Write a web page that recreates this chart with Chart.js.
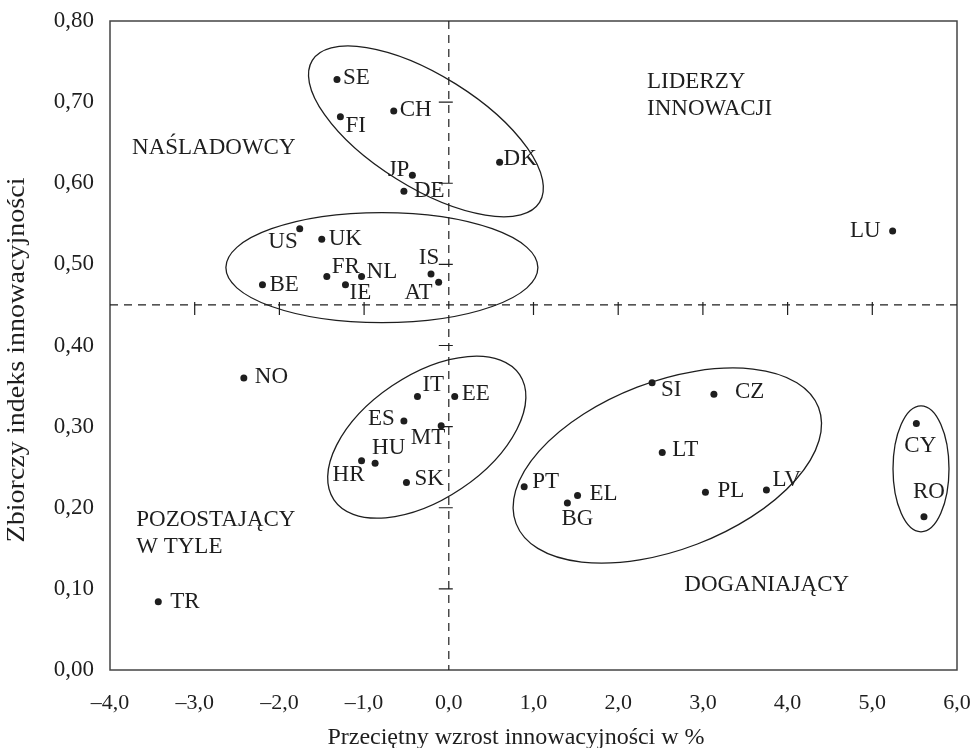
<!DOCTYPE html>
<html>
<head>
<meta charset="utf-8">
<script src="https://cdn.jsdelivr.net/npm/chart.js@4.4.1/dist/chart.umd.min.js"></script>
<style>
  html, body { margin: 0; padding: 0; background: #fff; }
  #wrap { width: 976px; height: 748px; }
</style>
</head>
<body>
<div id="wrap"><canvas id="chart" width="976" height="748"></canvas></div>
<script>
// country codes and values
const countries = ["SE", "FI", "CH", "DK", "JP", "DE", "US", "UK", "FR", "NL", "BE", "IE", "IS", "AT", "LU",
  "NO", "IT", "EE", "ES", "MT", "HR", "HU", "SK", "PT", "TR", "SI", "CZ", "LT", "EL", "BG", "PL", "LV", "CY", "RO"];
const growth = [-1.32, -1.28, -0.65, 0.60, -0.43, -0.53, -1.76, -1.50, -1.44, -1.03, -2.20, -1.22, -0.21, -0.12, 5.24,
  -2.42, -0.37, 0.07, -0.53, -0.09, -1.03, -0.87, -0.50, 0.89, -3.43, 2.40, 3.13, 2.52, 1.52, 1.40, 3.03, 3.75, 5.52, 5.61];
const index = [0.728, 0.682, 0.689, 0.626, 0.610, 0.590, 0.544, 0.531, 0.485, 0.485, 0.475, 0.475, 0.488, 0.478, 0.541,
  0.360, 0.337, 0.337, 0.307, 0.301, 0.258, 0.255, 0.231, 0.226, 0.084, 0.354, 0.340, 0.268, 0.215, 0.206, 0.219, 0.222, 0.304, 0.189];

// axis ticks
const xTicks = [-4, -3, -2, -1, 0, 1, 2, 3, 4, 5, 6];
const yTicks = [0, 0.1, 0.2, 0.3, 0.4, 0.5, 0.6, 0.7, 0.8];
const xTitle = "Przeciętny wzrost innowacyjności w %";
const yTitle = "Zbiorczy indeks innowacyjności";

// dividing lines (mean values)
const xSplit = 0;
const ySplit = 0.45;

// group texts
const groupLines = [["NAŚLADOWCY"], ["LIDERZY", "INNOWACJI"], ["POZOSTAJĄCY", "W TYLE"], ["DOGANIAJĄCY"]];
const groupX = [-3.74, 2.34, -3.69, 2.78];
const groupY = [0.644, 0.725, 0.185, 0.105];

// where each country label sits next to its dot: [dx, dy, align]
const labelPos = [
  [6, -1, "left"], [5, 9, "left"], [6, -1, "left"], [4, -3, "left"], [-3, -5, "right"], [10, 0, "left"],
  [-2, 13, "right"], [7, 0, "left"], [5, -10, "left"], [5, -5, "left"], [7, 0, "left"], [4, 8, "left"],
  [-2, -16, "center"], [-6, 11, "right"], [-12, 0, "right"], [11, -1, "left"], [5, -12, "left"], [7, -3, "left"],
  [-9, -2, "right"], [4, 12, "right"], [3, 14, "right"], [-3, -15, "left"], [8, -4, "left"], [8, -5, "left"],
  [12, 0, "left"], [9, 7, "left"], [21, -2, "left"], [10, -3, "left"], [12, -2, "left"], [-6, 16, "left"],
  [12, -1, "left"], [6, -10, "left"], [4, 23, "center"], [5, -25, "center"]
];

// cluster ellipses: centre in data units, radii in px, rotation in degrees
const ellipses = [
  { cx: -0.27, cy: 0.664, rx: 134, ry: 56, rot: 32 },
  { cx: -0.79, cy: 0.496, rx: 156, ry: 55, rot: 0 },
  { cx: -0.26, cy: 0.287, rx: 112, ry: 62, rot: -34 },
  { cx: 2.58, cy: 0.252, rx: 162, ry: 84, rot: -21 },
  { cx: 5.575, cy: 0.248, rx: 28, ry: 63, rot: 0 }
];

const ink = "#1e1e1e";
const serif = "'Liberation Serif', 'Times New Roman', serif";
Chart.defaults.font.family = serif;
Chart.defaults.color = ink;

const fmt = (v, d) => v.toFixed(d).replace(".", ",").replace("-", "\u2013");

const points = countries.map((c, i) => ({ x: growth[i], y: index[i] }));

// no automatic padding for overhanging tick labels
const noPad = s => { s.paddingLeft = 0; s.paddingRight = 0; s.paddingTop = 0; s.paddingBottom = 0; };

// extra drawing: frame, dashed split lines, ellipses and text
const overlay = {
  id: "overlay",
  afterDatasetsDraw(chart) {
    const ctx = chart.ctx;
    const xs = chart.scales.x, ys = chart.scales.y;
    const a = chart.chartArea;
    ctx.save();

    // frame
    ctx.strokeStyle = "#444";
    ctx.lineWidth = 1.5;
    ctx.strokeRect(a.left, a.top, a.right - a.left, a.bottom - a.top);

    // dashed split lines
    const x0 = xs.getPixelForValue(xSplit);
    const y0 = ys.getPixelForValue(ySplit);
    ctx.strokeStyle = ink;
    ctx.lineWidth = 1.2;
    ctx.setLineDash([8, 6]);
    ctx.beginPath();
    ctx.moveTo(x0, a.top);
    ctx.lineTo(x0, a.bottom);
    ctx.moveTo(a.left, y0);
    ctx.lineTo(a.right, y0);
    ctx.stroke();
    ctx.setLineDash([]);

    // small tick stubs on the split lines
    ctx.beginPath();
    yTicks.forEach(v => {
      if (v <= 0 || v >= 0.8) return;
      const py = ys.getPixelForValue(v);
      ctx.moveTo(x0 - 10, py);
      ctx.lineTo(x0 + 4, py);
    });
    xTicks.forEach(v => {
      if (v <= -4 || v >= 6 || v === xSplit) return;
      const px = xs.getPixelForValue(v);
      ctx.moveTo(px, y0 - 3);
      ctx.lineTo(px, y0 + 10);
    });
    ctx.stroke();

    // ellipses
    ctx.lineWidth = 1.3;
    ellipses.forEach(e => {
      ctx.beginPath();
      ctx.ellipse(xs.getPixelForValue(e.cx), ys.getPixelForValue(e.cy), e.rx, e.ry,
        e.rot * Math.PI / 180, 0, Math.PI * 2);
      ctx.stroke();
    });

    // country labels
    ctx.fillStyle = ink;
    ctx.font = "23px " + serif;
    ctx.textBaseline = "middle";
    countries.forEach((c, i) => {
      const p = labelPos[i];
      ctx.textAlign = p[2];
      ctx.fillText(c, xs.getPixelForValue(growth[i]) + p[0], ys.getPixelForValue(index[i]) + p[1]);
    });

    // group labels
    ctx.textAlign = "left";
    groupLines.forEach((lines, i) => {
      const gx = xs.getPixelForValue(groupX[i]);
      const gy = ys.getPixelForValue(groupY[i]);
      lines.forEach((t, k) => ctx.fillText(t, gx, gy + k * 27));
    });

    // axis titles
    ctx.textAlign = "center";
    ctx.font = "24px " + serif;
    ctx.fillText(xTitle, 516, 738);
    ctx.translate(17, 360);
    ctx.rotate(-Math.PI / 2);
    ctx.font = "25px " + serif;
    const w = ctx.measureText(yTitle).width;
    ctx.scale(365 / w, 1);
    ctx.fillText(yTitle, 0, 0);

    ctx.restore();
  }
};

new Chart(document.getElementById("chart"), {
  type: "scatter",
  data: {
    datasets: [{
      data: points,
      pointRadius: 3.5,
      pointHoverRadius: 3.5,
      backgroundColor: ink,
      borderColor: ink,
      borderWidth: 0
    }]
  },
  options: {
    responsive: false,
    animation: false,
    layout: { padding: { top: 21, right: 19, left: 0, bottom: 0 } },
    plugins: { legend: { display: false }, tooltip: { enabled: false } },
    scales: {
      x: {
        type: "linear",
        min: -4,
        max: 6,
        afterBuildTicks: s => { s.ticks = xTicks.map(v => ({ value: v })); },
        afterFit: s => { s.height = 78; noPad(s); },
        grid: { display: false, drawTicks: false },
        border: { display: false },
        ticks: { padding: 20, font: { size: 22 }, color: ink, maxRotation: 0, callback: v => fmt(v, 1) }
      },
      y: {
        type: "linear",
        min: 0,
        max: 0.8,
        afterBuildTicks: s => { s.ticks = yTicks.map(v => ({ value: v })); },
        afterFit: s => { s.width = 110; noPad(s); },
        grid: { display: false, drawTicks: false },
        border: { display: false },
        ticks: { padding: 16, font: { size: 23 }, color: ink, callback: v => fmt(v, 2) }
      }
    }
  },
  plugins: [overlay]
});
</script>
</body>
</html>
